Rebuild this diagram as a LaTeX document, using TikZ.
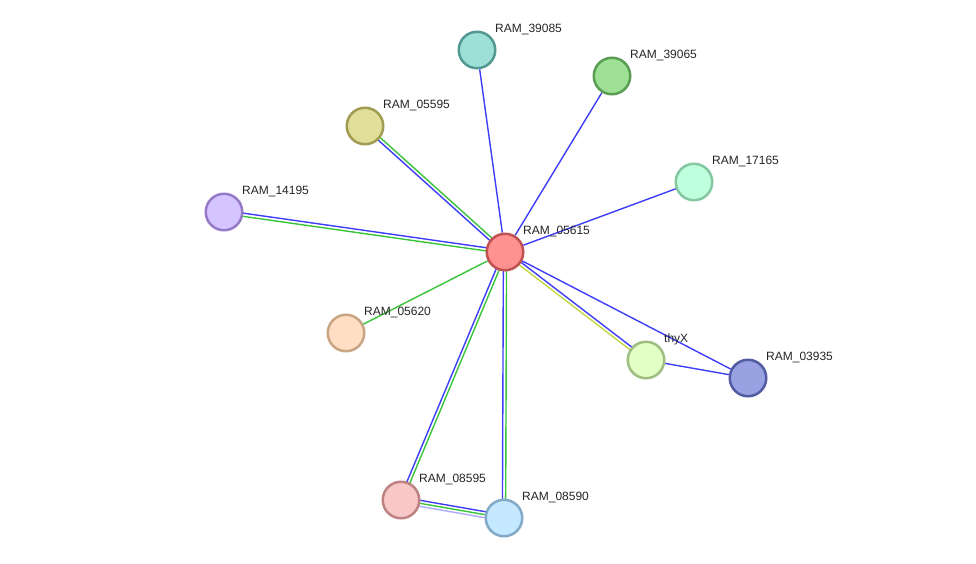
\documentclass[tikz,border=0pt]{standalone}
\usepackage{fontspec}
\setmainfont{Liberation Sans}
\usetikzlibrary{calc,backgrounds}
\definecolor{linkBlue}{RGB}{62,62,250}
\definecolor{linkGreen}{RGB}{58,196,58}
\definecolor{linkYellow}{RGB}{196,216,66}
\definecolor{linkLilac}{RGB}{172,172,250}
\definecolor{hubFill}{RGB}{255,145,145}\definecolor{hubLine}{RGB}{192,82,82}
\definecolor{tealFill}{RGB}{156,224,216}\definecolor{tealLine}{RGB}{84,152,146}
\definecolor{grnFill}{RGB}{160,224,150}\definecolor{grnLine}{RGB}{90,156,82}
\definecolor{oliveFill}{RGB}{224,222,152}\definecolor{oliveLine}{RGB}{160,156,82}
\definecolor{mintFill}{RGB}{192,255,222}\definecolor{mintLine}{RGB}{132,200,162}
\definecolor{violFill}{RGB}{212,196,255}\definecolor{violLine}{RGB}{150,122,200}
\definecolor{peachFill}{RGB}{255,222,196}\definecolor{peachLine}{RGB}{200,166,132}
\definecolor{limeFill}{RGB}{226,255,198}\definecolor{limeLine}{RGB}{160,190,130}
\definecolor{navyFill}{RGB}{152,162,226}\definecolor{navyLine}{RGB}{82,92,162}
\definecolor{roseFill}{RGB}{248,200,200}\definecolor{roseLine}{RGB}{190,130,130}
\definecolor{skyFill}{RGB}{196,232,255}\definecolor{skyLine}{RGB}{130,170,200}
\tikzset{stringnet/.style={
  x=1pt, y=-1pt,
  prot/.style={circle, minimum size=36.5pt, inner sep=0pt, line width=2.5pt},
  lbl/.style={anchor=west, inner sep=0pt, font=\fontsize{12}{14}\selectfont, text=black!85},
  link/.style={line width=1.4pt},
}}
% two parallel links, #3 on the left of #1->#2, #4 on the right
\newcommand{\linkpair}[4]{%
  \draw[link,#3] ($(#1)!1.6pt!90:(#2)$) -- ($(#2)!1.6pt!-90:(#1)$);
  \draw[link,#4] ($(#1)!1.6pt!-90:(#2)$) -- ($(#2)!1.6pt!90:(#1)$);}

\begin{document}
\begin{tikzpicture}[stringnet]
\useasboundingbox (0,0) rectangle (976,563);

% ---- proteins ----
\foreach \id/\px/\py/\col/\txt in {n05615/505/252/hub/RAM\_05615,
    n39085/477/50/teal/RAM\_39085, n39065/612/76/grn/RAM\_39065,
    n05595/365/126/olive/RAM\_05595, n17165/694/182/mint/RAM\_17165,
    n14195/224/212/viol/RAM\_14195, n05620/346/333/peach/RAM\_05620,
    nthyX/646/360/lime/thyX, n03935/748/378/navy/RAM\_03935,
    n08595/401/500/rose/RAM\_08595, n08590/504/518/sky/RAM\_08590}{
  \node[prot, fill=\col Fill, draw=\col Line] (\id) at (\px,\py) {};
  \node[lbl] (l\id) at ([shift={(18,-21)}]\id.center) {\txt};
}

% ---- links, kept under the circles ----
\begin{scope}[on background layer]
\fill[white] (0,0) rectangle (976,563);
\draw[link, linkBlue] (n05615) -- (n39085);
\draw[link, linkBlue] (n05615) -- (n39065);
\draw[link, linkBlue] (n05615) -- (n17165);
\draw[link, linkBlue] (n05615) -- (n03935);
\draw[link, linkBlue] (nthyX) -- (n03935);
\draw[link, linkGreen] (n05615) -- (n05620);
\linkpair{n05615}{n05595}{linkBlue}{linkGreen}
\linkpair{n05615}{n14195}{linkGreen}{linkBlue}
\linkpair{n05615}{nthyX}{linkBlue}{linkYellow}
\linkpair{n05615}{n08595}{linkGreen}{linkBlue}
\linkpair{n05615}{n08590}{linkGreen}{linkBlue}
% three links between the two bottom proteins
\draw[link, linkBlue] ($(n08595)!3pt!90:(n08590)$) -- ($(n08590)!3pt!-90:(n08595)$);
\draw[link, linkGreen] (n08595) -- (n08590);
\draw[link, linkLilac] ($(n08595)!3pt!-90:(n08590)$) -- ($(n08590)!3pt!90:(n08595)$);
\end{scope}
\end{tikzpicture}
\end{document}
